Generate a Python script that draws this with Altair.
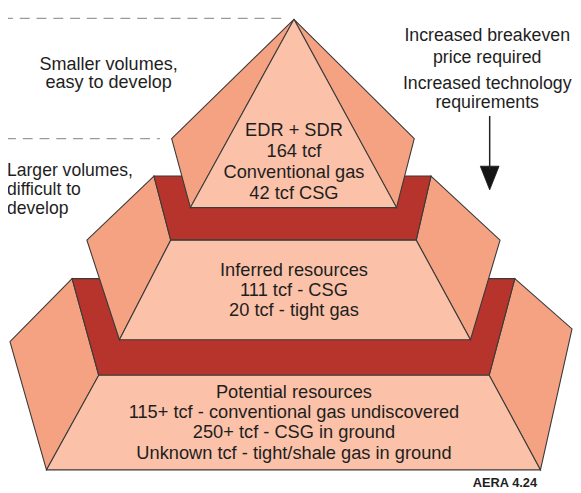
import altair as alt
import pandas as pd

# ---- diagram geometry (image pixel coordinates) ----
LIGHT = "#FBC2A9"
SIDE = "#F5A283"
DARK = "#B7342C"
EDGE = "#3a3a3a"

tier3_left = [(73, 279), (10, 343), (47, 473), (100, 377)]
tier3_right = [(522, 279), (580, 330), (548, 473), (496, 377)]
tier3_front = [(100, 377), (496, 377), (548, 473), (47, 473)]
tier3_band = [(73, 279), (522, 279), (496, 377), (100, 377)]
tier2_left = [(156, 175), (88, 240), (121, 341), (173, 240)]
tier2_right = [(437, 175), (507, 240), (477, 341), (422, 240)]
tier2_front = [(173, 240), (422, 240), (477, 341), (121, 341)]
tier2_band = [(156, 175), (437, 175), (422, 240), (173, 240)]
tier1_left = [(298, 16), (174, 137), (193, 207)]
tier1_right = [(298, 16), (420, 137), (402, 207)]
tier1_front = [(298, 16), (402, 207), (193, 207)]
arrow_head = [(487, 165), (506, 165), (496.5, 189)]

shapes = [
    (tier3_left, SIDE), (tier3_right, SIDE), (tier3_band, DARK), (tier3_front, LIGHT),
    (tier2_left, SIDE), (tier2_right, SIDE), (tier2_band, DARK), (tier2_front, LIGHT),
    (tier1_left, SIDE), (tier1_right, SIDE), (tier1_front, LIGHT),
]

# text labels
center_x = [110, 110, 494, 494, 494, 494,
            298, 298, 298, 298,
            298, 298, 298,
            298, 298, 298, 298]
center_y = [62, 81, 33, 55, 82, 101,
            128, 150, 171, 192,
            270, 291, 311,
            394, 414, 435, 456]
center_text = ["Smaller volumes,", "easy to develop",
               "Increased breakeven", "price required",
               "Increased technology", "requirements",
               "EDR + SDR", "164 tcf", "Conventional gas", "42 tcf CSG",
               "Inferred resources", "111 tcf - CSG", "20 tcf - tight gas",
               "Potential resources",
               "115+ tcf - conventional gas undiscovered",
               "250+ tcf - CSG in ground",
               "Unknown tcf - tight/shale gas in ground"]
center_size = [18.3, 18.3, 18, 18, 18, 18,
               18.5, 18.5, 18.5, 18.5,
               18.5, 18.5, 18.5,
               18.5, 18.5, 18.5, 18.5]

left_x = [7, 7, 7]
left_y = [170, 189, 208]
left_text = ["Larger volumes,", "difficult to", "develop"]

# dashed guide lines and arrow stem
dash_x1 = [3, 6]
dash_x2 = [290, 162]
dash_y = [15, 137]
stem = dict(x=[496.5], y1=[114], y2=[168])


def feature(pts, fill):
    ring = [list(p) for p in pts] + [list(pts[0])]
    return {"type": "Feature", "properties": {"fill": fill},
            "geometry": {"type": "Polygon", "coordinates": [ring]}}


features = [feature(p, c) for p, c in shapes]
arrow_feat = [feature(arrow_head, "#151515")]

polys = alt.Chart(alt.InlineData(values=features, format=alt.DataFormat(type="json"))).mark_geoshape(
    stroke=EDGE, strokeWidth=1.1, strokeJoin="miter"
).encode(fill=alt.Fill("properties.fill:N", scale=None))

arrowhead = alt.Chart(alt.InlineData(values=arrow_feat, format=alt.DataFormat(type="json"))).mark_geoshape(
    stroke="#151515", strokeWidth=0.8
).encode(fill=alt.Fill("properties.fill:N", scale=None))

dash_df = pd.DataFrame({"x1": dash_x1, "x2": dash_x2, "y": dash_y})
dashes = alt.Chart(dash_df).mark_rule(color="#9a9a9a", strokeWidth=1.3, strokeDash=[10, 7]).encode(
    longitude="x1:Q", latitude="y:Q", longitude2="x2:Q", latitude2="y:Q"
)

stem_df = pd.DataFrame(stem)
stem_rule = alt.Chart(stem_df).mark_rule(color="#222222", strokeWidth=1.5).encode(
    longitude="x:Q", latitude="y1:Q", longitude2="x:Q", latitude2="y2:Q"
)

cdf = pd.DataFrame({"x": center_x, "y": center_y, "t": center_text, "s": center_size})
ctext = alt.Chart(cdf).mark_text(
    align="center", baseline="middle", font="Liberation Sans", color="#1e1e1e"
).encode(longitude="x:Q", latitude="y:Q", text="t:N", size=alt.Size("s:Q", scale=None))

ldf = pd.DataFrame({"x": left_x, "y": left_y, "t": left_text})
ltext = alt.Chart(ldf).mark_text(
    align="left", baseline="middle", font="Liberation Sans", fontSize=17.8, color="#1e1e1e"
).encode(longitude="x:Q", latitude="y:Q", text="t:N")

src_df = pd.DataFrame({"x": [512], "y": [486], "t": ["AERA 4.24"]})
src = alt.Chart(src_df).mark_text(
    align="center", baseline="middle", font="Liberation Sans", fontSize=13, fontWeight="bold", color="#1e1e1e"
).encode(longitude="x:Q", latitude="y:Q", text="t:N")

chart = alt.layer(polys, arrowhead, dashes, stem_rule, ctext, ltext, src).project(
    type="identity", scale=1, translate=[-8, -8]
).properties(
    width=573, height=485, padding=0, autosize=alt.AutoSizeParams(type="none"), background="white"
).configure_view(stroke=None)

chart.save("out.html", embed_options={"renderer": "svg", "actions": False})
